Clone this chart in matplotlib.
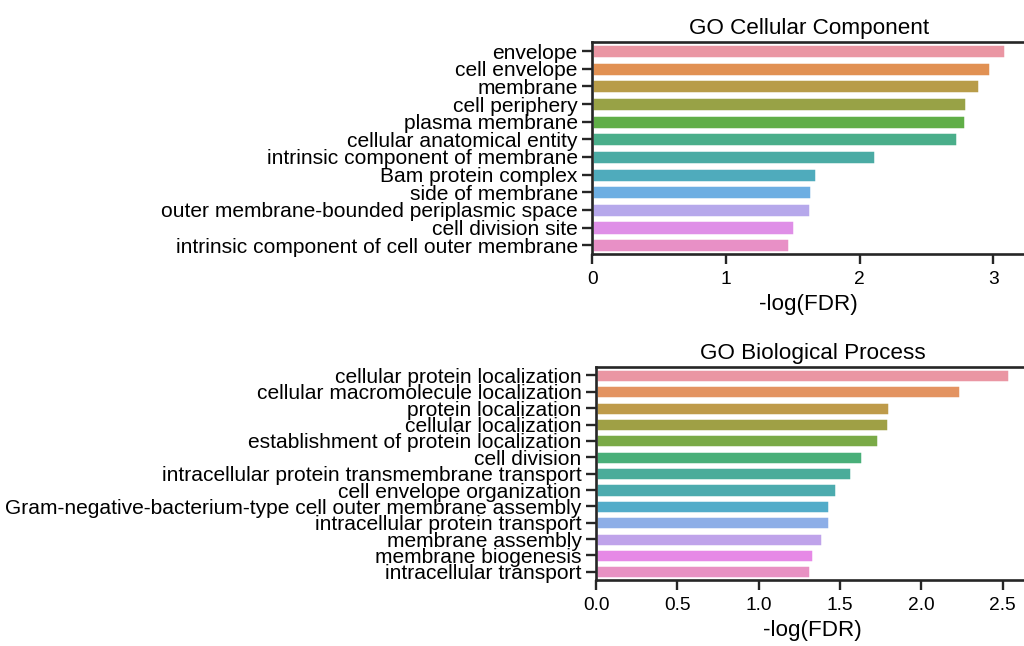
import matplotlib
matplotlib.use("Agg")
import matplotlib.pyplot as plt
import seaborn as sns
import pandas as pd

cc_terms = ["envelope", "cell envelope", "membrane", "cell periphery", "plasma membrane",
            "cellular anatomical entity", "intrinsic component of membrane", "Bam protein complex",
            "side of membrane", "outer membrane-bounded periplasmic space", "cell division site",
            "intrinsic component of cell outer membrane"]
cc_values = [3.085, 2.973, 2.893, 2.798, 2.788, 2.728, 2.112, 1.671, 1.634, 1.626, 1.506, 1.472]

bp_terms = ["cellular protein localization", "cellular macromolecule localization",
            "protein localization", "cellular localization", "establishment of protein localization",
            "cell division", "intracellular protein transmembrane transport",
            "cell envelope organization", "Gram-negative-bacterium-type cell outer membrane assembly",
            "intracellular protein transport", "membrane assembly", "membrane biogenesis",
            "intracellular transport"]
bp_values = [2.536, 2.235, 1.803, 1.797, 1.733, 1.633, 1.565, 1.473, 1.432, 1.430, 1.387, 1.336, 1.313]

titles = ["GO Cellular Component", "GO Biological Process"]
xlabel = "-log(FDR)"

sns.set_style("ticks")
plt.rcParams['font.family'] = ['Liberation Sans', 'DejaVu Sans']
plt.rcParams['axes.linewidth'] = 1.9
plt.rcParams['xtick.major.width'] = 1.7
plt.rcParams['ytick.major.width'] = 1.7
plt.rcParams['xtick.major.size'] = 7.5
plt.rcParams['ytick.major.size'] = 7.5
plt.rcParams['axes.edgecolor'] = '#262626'
plt.rcParams['xtick.color'] = '#262626'
plt.rcParams['ytick.color'] = '#262626'

fig = plt.figure(figsize=(10.24, 6.46), dpi=100)
ax1 = fig.add_axes([592.3/1024, 1-254/646, 433.0/1024, (254-42.3)/646])
ax2 = fig.add_axes([596.0/1024, 1-580/646, 433.3/1024, (580-367.3)/646])

for ax, terms, vals, title in [(ax1, cc_terms, cc_values, titles[0]), (ax2, bp_terms, bp_values, titles[1])]:
    df = pd.DataFrame({"term": terms, "val": vals})
    pal = sns.husl_palette(len(terms), l=0.7)
    sns.barplot(data=df, x="val", y="term", hue="term", palette=pal, legend=False,
                ax=ax, edgecolor="white", linewidth=1.8)
    ax.set_xlim(0, max(vals) * 1.05)
    ax.set_title(title, fontsize=16.2, color='black', pad=6)
    ax.set_xlabel(xlabel, fontsize=16.1, color='black', labelpad=4)
    ax.set_ylabel("")
    ax.tick_params(axis='y', labelsize=15.1, labelcolor='black', pad=3)
    ax.tick_params(axis='x', labelsize=13.8, labelcolor='black', pad=5)

ax1.set_xticks([0, 1, 2, 3])
ax2.set_xticks([0, 0.5, 1.0, 1.5, 2.0, 2.5])

fig.savefig("out.png", dpi=100)
